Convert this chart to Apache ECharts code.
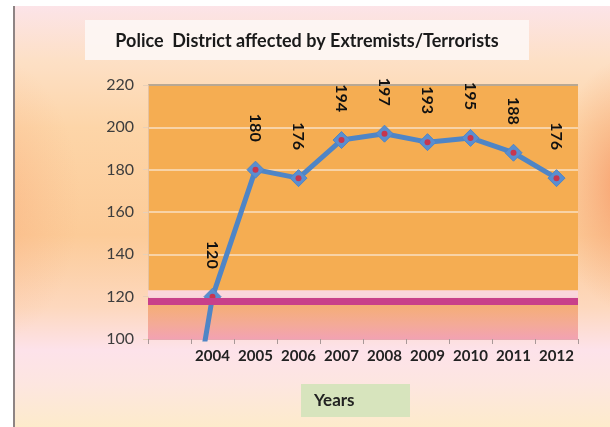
<!DOCTYPE html>
<html>
<head>
<meta charset="utf-8">
<script src="https://cdn.jsdelivr.net/npm/echarts@6/dist/echarts.min.js"></script>
<style>html,body{margin:0;padding:0;}#c{width:610px;height:427px;}</style>
</head>
<body>
<div id="c"></div>
<script>
// ---- data ----
const categories = ['', '2004', '2005', '2006', '2007', '2008', '2009', '2010', '2011', '2012'];
const districts = [0, 120, 180, 176, 194, 197, 193, 195, 188, 176];
const yMin = 100, yMax = 220, yStep = 20;
const titleText = 'Police  District affected by Extremists/Terrorists';
const xName = 'Years';
const refLineValue = 118;
const paleBand = [120, 123];
const lowBand = [100, 117];

const chart = echarts.init(document.getElementById('c'), null, {renderer: 'canvas'});
const FONT = 'Lato';

const lineData = districts.map((v, i) => categories[i] === ''
  ? {value: v, symbol: 'none', label: {show: false}}
  : v);
const dotData = districts.map((v, i) => categories[i] === '' ? '-' : v);

const glow = (cx, cy, r, sy, a) => ({
  type: 'circle', z: -6, x: cx, y: cy, scaleY: sy,
  shape: {cx: 0, cy: 0, r: r},
  style: {fill: new echarts.graphic.RadialGradient(0.5, 0.5, 0.5, [
    {offset: 0, color: 'rgba(246,150,100,' + a + ')'},
    {offset: 0.5, color: 'rgba(246,160,110,' + (a * 0.5) + ')'},
    {offset: 1, color: 'rgba(246,170,120,0)'}])}
});

const option = {
  animation: false,
  backgroundColor: new echarts.graphic.LinearGradient(0, 0, 0, 1, [
    {offset: 0, color: '#FCE4EC'},
    {offset: 0.14, color: '#FDE0C6'},
    {offset: 0.3, color: '#FDD5A8'},
    {offset: 0.55, color: '#FCCB98'},
    {offset: 0.72, color: '#FDD8BE'},
    {offset: 0.82, color: '#FDE2EA'},
    {offset: 0.9, color: '#FDE6E0'},
    {offset: 1, color: '#FDEBCB'}
  ]),
  grid: {left: 148, right: 32, top: 85, bottom: 88, show: true, backgroundColor: '#F5AD52', borderWidth: 0},
  xAxis: {
    type: 'category',
    data: categories,
    boundaryGap: true,
    axisLine: {show: true, lineStyle: {color: '#E8A8B0', width: 1}},
    axisTick: {show: true, length: 5, interval: 0, lineStyle: {color: '#A89898'}},
    axisLabel: {interval: 0, color: '#222', fontFamily: FONT, fontSize: 15, fontWeight: 'bold', margin: 10}
  },
  yAxis: {
    type: 'value',
    min: yMin, max: yMax, interval: yStep,
    axisLine: {show: true, lineStyle: {color: '#E6C2A0'}},
    axisTick: {show: true, length: 5, lineStyle: {color: '#E8D0B8'}},
    axisLabel: {color: '#3d3d3d', fontFamily: FONT, fontSize: 16, margin: 14},
    splitLine: {show: true, lineStyle: {color: ['#F0A8B4', '#F8D0D8', '#F8D3A6', '#F8D3A6', '#F8D3A6', '#F8D3A6', '#B8A894'], width: 2}}
  },
  series: [
    {
      type: 'line',
      data: lineData,
      clip: true,
      z: 3,
      symbol: 'diamond',
      symbolSize: 17,
      lineStyle: {color: '#4F85C6', width: 5},
      itemStyle: {color: '#5A8ED0', borderColor: '#4F85C6', borderWidth: 1},
      label: {
        show: true, position: 'top', distance: 19, rotate: -90,
        align: 'right', verticalAlign: 'middle',
        color: '#111', fontFamily: FONT, fontSize: 16, fontWeight: 'bold'
      },
      markArea: {
        silent: true,
        data: [
          [{yAxis: paleBand[0], itemStyle: {color: '#FAD6DC'}}, {yAxis: paleBand[1]}],
          [{yAxis: lowBand[0], itemStyle: {color: new echarts.graphic.LinearGradient(0, 0, 0, 1, [
            {offset: 0, color: '#F5AE72'}, {offset: 0.6, color: '#F4AA98'}, {offset: 1, color: '#F2A2B2'}])}},
           {yAxis: lowBand[1]}]
        ]
      },
      markLine: {
        silent: true, symbol: 'none', label: {show: false},
        lineStyle: {color: '#C8408A', width: 7, type: 'solid', opacity: 1},
        data: [{yAxis: refLineValue}]
      }
    },
    {
      type: 'scatter',
      data: dotData,
      z: 4,
      symbol: 'circle',
      symbolSize: 6,
      itemStyle: {color: '#E2202E'},
      silent: true
    }
  ],
  graphic: [
    glow(625, 185, 70, 1.8, 0.85),
    glow(-10, 200, 90, 1.6, 0.35),
    {type: 'rect', z: -5, shape: {x: 0, y: 0, width: 610, height: 6}, style: {fill: '#ffffff'}},
    {type: 'rect', z: -5, shape: {x: 0, y: 0, width: 13, height: 427}, style: {fill: '#ffffff'}},
    {type: 'rect', z: -5, shape: {x: 13, y: 6, width: 2, height: 421}, style: {fill: '#8E8484'}},
    {type: 'rect', z: 10, shape: {x: 85, y: 20, width: 444, height: 40}, style: {fill: 'rgba(253,246,244,0.92)'}},
    {type: 'text', z: 11, x: 307, y: 41, style: {text: titleText, fill: '#1a1a1a', font: 'bold 18px Lato', textAlign: 'center', textVerticalAlign: 'middle'}},
    {type: 'rect', z: 10, shape: {x: 301, y: 384, width: 109, height: 33}, style: {fill: '#D7E4BD'}},
    {type: 'text', z: 11, x: 314, y: 401, style: {text: xName, fill: '#222', font: 'bold 17px Lato', textAlign: 'left', textVerticalAlign: 'middle'}}
  ]
};
chart.setOption(option);
</script>
</body>
</html>
